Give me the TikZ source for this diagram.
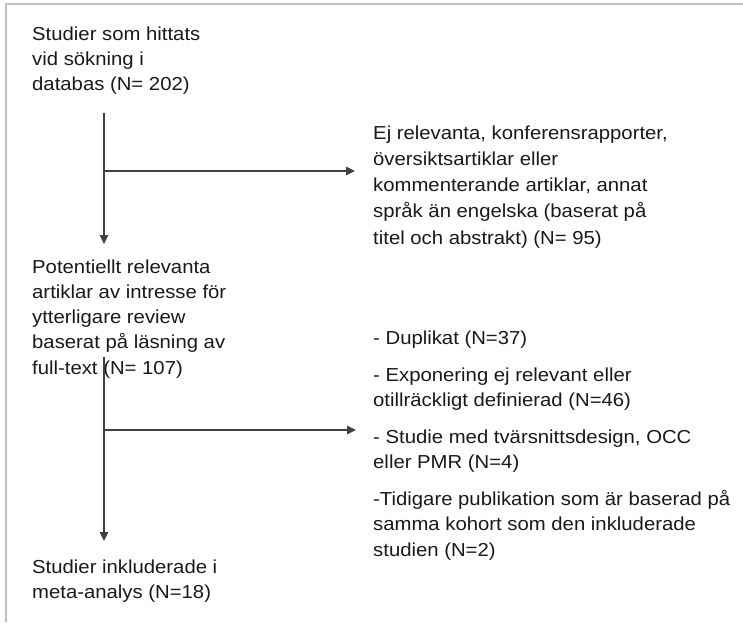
\documentclass[tikz,border=0pt]{standalone}
\usepackage{fontspec}
\setmainfont{Liberation Sans}[FakeStretch=1.08]
\usetikzlibrary{arrows.meta}
\begin{document}
\begin{tikzpicture}[x=1pt,y=-1pt,
  txt/.style={anchor=base west, inner sep=0pt, align=left, text=black!90,
              font=\fontsize{18.8}{25.3}\selectfont},
  conn/.style={draw=black!75, line width=1.3pt},
  arr/.style={conn, -{Triangle[length=9pt,width=8.5pt]}},
  frame/.style={draw=black!25, line width=2pt}]
\useasboundingbox (0,0) rectangle (743,622);
\draw[frame] (5.5,622) -- (5.5,4) -- (743,4);

% anchors are at the baseline of the last line of each text
\node[txt] (t1) at (32,90.6) {Studier som hittats\\vid sökning i\\databas (N= 202)};
\node[txt, font=\fontsize{18.8}{26.3}\selectfont] (t2) at (373,244.2)
  {Ej relevanta, konferensrapporter,\\översiktsartiklar eller\\kommenterande artiklar, annat\\språk än engelska (baserat på\\titel och abstrakt) (N= 95)};
\node[txt] (t3) at (32,374.2) {Potentiellt relevanta\\artiklar av intresse för\\ytterligare review\\baserat på läsning av\\full-text (N= 107)};
\node[txt] (t4) at (373,556) {- Duplikat (N=37)\\[11.5pt]- Exponering ej relevant eller\\otillräckligt definierad (N=46)\\[11.5pt]- Studie med tvärsnittsdesign, OCC\\eller PMR (N=4)\\[11.5pt]-Tidigare publikation som är baserad på\\samma kohort som den inkluderade\\studien (N=2)};
\node[txt] (t5) at (32,598.3) {Studier inkluderade i\\meta-analys (N=18)};

\coordinate (s1) at (104,113);
\coordinate (e1) at (104,244);
\coordinate (j1) at (104,171);
\coordinate (h1) at (355,171);
\coordinate (s2) at (104,357);
\coordinate (e2) at (104,541);
\coordinate (j2) at (104,430);
\coordinate (h2) at (356,430);

\draw[arr] (s1) -- (e1);
\draw[arr] (j1) -- (h1);
\draw[arr] (s2) -- (e2);
\draw[arr] (j2) -- (h2);
\end{tikzpicture}
\end{document}
